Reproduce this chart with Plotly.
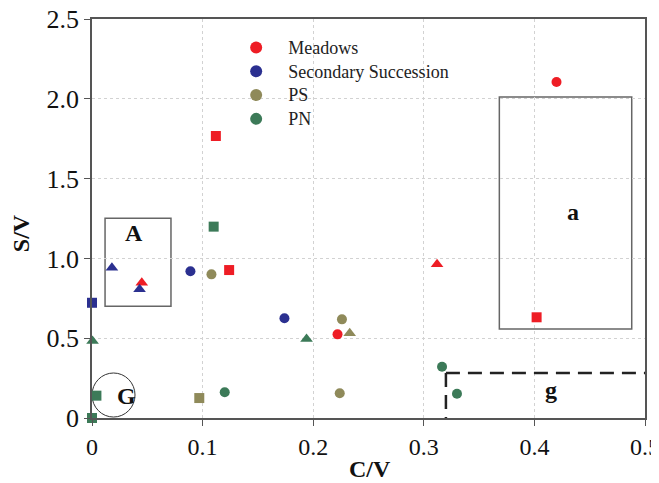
import plotly.graph_objects as go

series_names = ["Meadows", "Secondary Succession", "PS", "PN"]
series_colors = ["#EE1D25", "#2B3090", "#8F8A5A", "#3C7A58"]

meadows_x = [0.420, 0.112, 0.124, 0.045, 0.222, 0.312, 0.402]
meadows_y = [2.105, 1.767, 0.927, 0.848, 0.524, 0.963, 0.631]
meadows_sym = ["circle", "square", "square", "triangle-up", "circle", "triangle-up", "square"]

secondary_x = [0.089, 0.174, 0.018, 0.043, 0.0]
secondary_y = [0.919, 0.625, 0.942, 0.806, 0.722]
secondary_sym = ["circle", "circle", "triangle-up", "triangle-up", "square"]

ps_x = [0.108, 0.226, 0.224, 0.097, 0.233, -0.002]
ps_y = [0.900, 0.618, 0.155, 0.125, 0.531, 0.150]
ps_sym = ["circle", "circle", "circle", "square", "triangle-up", "triangle-up"]

pn_x = [0.120, 0.3165, 0.330, 0.110, 0.004, 0.0, 0.0005, 0.194]
pn_y = [0.161, 0.321, 0.152, 1.199, 0.140, 0.0, 0.482, 0.495]
pn_sym = ["circle", "circle", "circle", "square", "square", "square", "triangle-up", "triangle-up"]

xs = [meadows_x, secondary_x, ps_x, pn_x]
ys = [meadows_y, secondary_y, ps_y, pn_y]
syms = [meadows_sym, secondary_sym, ps_sym, pn_sym]

x_ticks = [0, 0.1, 0.2, 0.3, 0.4, 0.5]
x_ticktext = ["0", "0.1", "0.2", "0.3", "0.4", "0.5"]
y_ticks = [0, 0.5, 1.0, 1.5, 2.0, 2.5]
y_ticktext = ["0", "0.5", "1.0", "1.5", "2.0", "2.5"]

FONT = "Liberation Serif, Times New Roman, serif"

fig = go.Figure()
for name, color, x, y, s in zip(series_names, series_colors, xs, ys, syms):
    sizes = [11 if sym == "triangle-up" else 10 for sym in s]
    fig.add_trace(go.Scatter(
        x=x, y=y, mode="markers",
        name='<span style="font-size:18px">%s</span>' % name,
        marker=dict(color=color, symbol=s, size=sizes, opacity=1, line=dict(width=0)),
        cliponaxis=False,
    ))

line_col = "#555555"
# Box A
fig.add_shape(type="rect", x0=0.0118, x1=0.0714, y0=0.700, y1=1.251,
              line=dict(color="#666666", width=1.5), layer="below")
# Box a
fig.add_shape(type="rect", x0=0.3683, x1=0.488, y0=0.558, y1=2.011,
              line=dict(color="#666666", width=1.5), layer="below")
# Circle G
fig.add_shape(type="circle", x0=0.0, x1=0.0389, y0=0.006, y1=0.282,
              line=dict(color="#333333", width=1), layer="below")
# Dashed g
fig.add_shape(type="line", x0=0.32, x1=0.5, y0=0.282, y1=0.282,
              line=dict(color="#222222", width=2.5, dash="14px,8px"))
fig.add_shape(type="line", x0=0.32, x1=0.32, y0=0.282, y1=0.0,
              line=dict(color="#222222", width=2.5, dash="14px,8px"))

for txt, x, y in [("A", 0.038, 1.16), ("a", 0.435, 1.29), ("G", 0.0315, 0.14), ("g", 0.415, 0.175)]:
    fig.add_annotation(x=x, y=y, text="<b>%s</b>" % txt, showarrow=False,
                       font=dict(family=FONT, size=24, color="#111111"))

# axis titles
fig.add_annotation(xref="paper", yref="paper", x=-0.128, y=0.4637, text="<b>S/V</b>",
                   textangle=-90, showarrow=False, xanchor="center", yanchor="middle",
                   font=dict(family=FONT, size=24, color="#111111"))
fig.add_annotation(xref="paper", yref="paper", x=0.502, y=-0.127, text="<b>C/V</b>",
                   showarrow=False, xanchor="center", yanchor="middle",
                   font=dict(family=FONT, size=24, color="#111111"))

fig.update_layout(
    width=659, height=483,
    margin=dict(l=84, r=22, t=11, b=73),
    paper_bgcolor="white", plot_bgcolor="white",
    font=dict(family=FONT, size=24, color="#111111"),
    showlegend=True,
    legend=dict(x=0.239, y=0.971, xanchor="left", yanchor="top",
                bgcolor="rgba(0,0,0,0)", font=dict(family=FONT, size=16, color="#222222"),
                itemwidth=54, tracegroupgap=0, itemsizing="constant"),
)
fig.update_xaxes(
    range=[0, 0.5], tickvals=x_ticks, ticktext=x_ticktext,
    showline=True, linecolor=line_col, linewidth=1.5, mirror=True,
    ticks="outside", ticklen=6, tickcolor=line_col,
    showgrid=True, gridcolor="#D2D2D2", griddash="dot", gridwidth=1,
    zeroline=False, automargin=False, ticklabeloverflow="allow",
    tickfont=dict(family=FONT, size=24, color="#111111"),
)
fig.update_yaxes(
    range=[0, 2.5], tickvals=y_ticks, ticktext=y_ticktext,
    showline=True, linecolor=line_col, linewidth=1.5, mirror=True,
    ticks="outside", ticklen=6, tickcolor=line_col,
    showgrid=True, gridcolor="#D2D2D2", griddash="dot", gridwidth=1,
    zeroline=False, automargin=False, ticklabeloverflow="allow",
    tickfont=dict(family=FONT, size=26, color="#111111"),
)

fig.write_html("out.html")
